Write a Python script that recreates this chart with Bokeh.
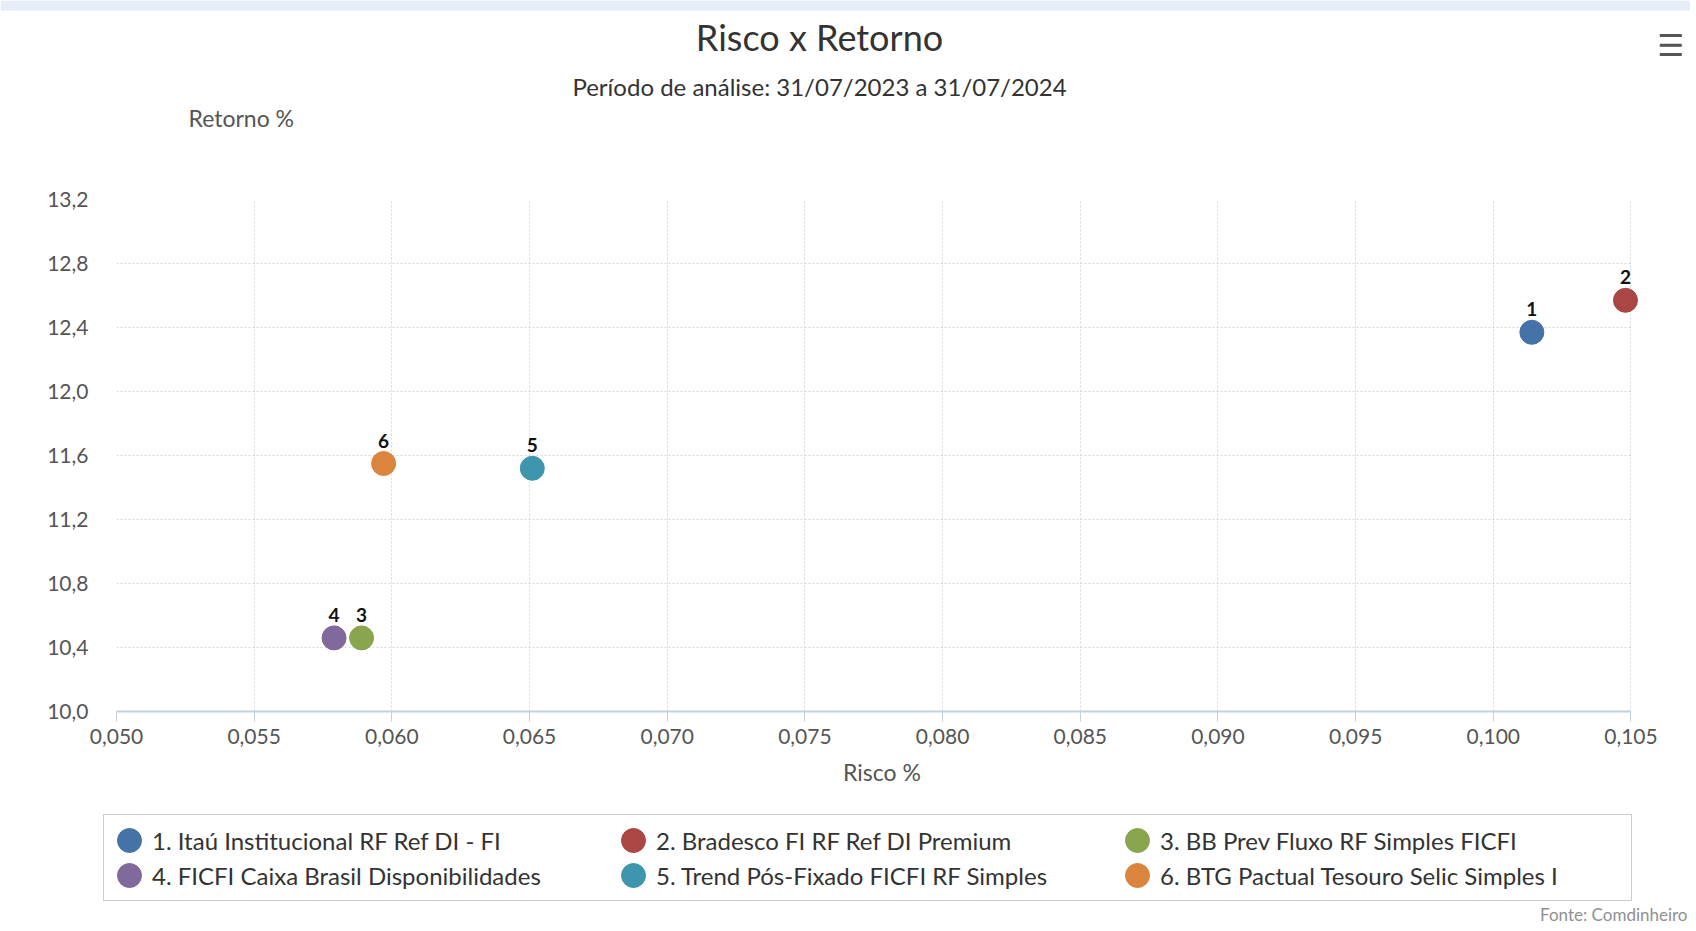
from bokeh.plotting import figure
from bokeh.models import (ColumnDataSource, Legend, LegendItem, Label, FixedTicker,
                          CustomJSTickFormatter, Range1d, BoxAnnotation)
from bokeh.core.properties import value
from bokeh.embed import file_html
from bokeh.resources import INLINE

# ---- data ----
funds = [
    "1. Itaú Institucional RF Ref DI - FI",
    "2. Bradesco FI RF Ref DI Premium",
    "3. BB Prev Fluxo RF Simples FICFI",
    "4. FICFI Caixa Brasil Disponibilidades",
    "5. Trend Pós-Fixado FICFI RF Simples",
    "6. BTG Pactual Tesouro Selic Simples I",
]
point_labels = ["1", "2", "3", "4", "5", "6"]
risco = [0.1014, 0.1048, 0.0589, 0.0579, 0.0651, 0.0597]
retorno = [12.37, 12.57, 10.46, 10.46, 11.52, 11.55]
colors = ["#4572A7", "#AA4643", "#89A54E", "#80699B", "#3D96AE", "#DB843D"]
x_ticks = [0.050, 0.055, 0.060, 0.065, 0.070, 0.075, 0.080, 0.085, 0.090, 0.095, 0.100, 0.105]
y_ticks = [10.0, 10.4, 10.8, 11.2, 11.6, 12.0, 12.4, 12.8, 13.2]
title_text = "Risco x Retorno"
subtitle_text = "Período de análise: 31/07/2023 a 31/07/2024"
x_title = "Risco %"
y_title = "Retorno %"
credit_text = "Fonte: Comdinheiro"

FONT = "Lato"
W = 1690
TOP_H, MAIN_H, LEG_H = 185, 606, 134


def blank(height):
    f = figure(width=W, height=height, output_backend="svg", toolbar_location=None,
               x_range=Range1d(0, 1), y_range=Range1d(0, 1), min_border=0)
    f.axis.visible = False
    f.grid.visible = False
    f.outline_line_color = None
    f.border_fill_color = "white"
    f.background_fill_color = "white"
    return f


# ---------------- heading strip ----------------
t = blank(TOP_H)
t.add_layout(BoxAnnotation(left=0, right=W, top=TOP_H, bottom=TOP_H - 10,
                           left_units="screen", right_units="screen",
                           top_units="screen", bottom_units="screen",
                           fill_color="#E6ECF8", fill_alpha=1.0, line_color=None))
t.add_layout(Label(x=819, y=TOP_H - 36, x_units="screen", y_units="screen", text=title_text,
                   text_align="center", text_baseline="middle", text_font=FONT,
                   text_font_size="36px", text_color="#333333"))
t.add_layout(Label(x=819, y=TOP_H - 86, x_units="screen", y_units="screen", text=subtitle_text,
                   text_align="center", text_baseline="middle", text_font=FONT,
                   text_font_size="24px", text_color="#333333"))
t.add_layout(Label(x=188, y=TOP_H - 117, x_units="screen", y_units="screen", text=y_title,
                   text_align="left", text_baseline="middle", text_font=FONT,
                   text_font_size="23px", text_color="#555555"))
t.add_layout(Label(x=1684, y=TOP_H - 45, x_units="screen", y_units="screen", text="☰",
                   text_align="right", text_baseline="middle", text_font="DejaVu Sans",
                   text_font_size="30px", text_font_style="bold", text_color="#555555"))

# ---------------- main chart ----------------
p = figure(width=W, height=MAIN_H, output_backend="svg", toolbar_location=None,
           x_range=Range1d(x_ticks[0], 0.1056), y_range=Range1d(y_ticks[0], y_ticks[-1]),
           min_border_left=116, min_border_right=43, min_border_top=14, min_border_bottom=80)
p.outline_line_color = None
p.background_fill_color = "white"
p.border_fill_color = "white"

for g in (p.xgrid, p.ygrid):
    g.grid_line_color = "#d8d8d8"
    g.grid_line_dash = "2 2"
    g.grid_line_width = 1
p.xgrid.ticker = FixedTicker(ticks=x_ticks)
p.ygrid.ticker = FixedTicker(ticks=y_ticks)
p.ygrid.cross_bounds = (x_ticks[0], x_ticks[-1])

xa = p.xaxis[0]
xa.ticker = FixedTicker(ticks=x_ticks)
xa.bounds = (x_ticks[0], x_ticks[-1])
xa.formatter = CustomJSTickFormatter(code="return tick.toFixed(3).replace('.', ',');")
xa.axis_line_color = "#C0D0E0"
xa.axis_line_width = 2
xa.major_tick_line_color = "#C0D0E0"
xa.major_tick_out = 10
xa.major_tick_in = 0
xa.minor_tick_line_color = None
xa.major_label_standoff = 7
xa.major_label_text_font = FONT
xa.major_label_text_font_size = "21px"
xa.major_label_text_color = "#555555"
xa.axis_label = x_title
xa.axis_label_text_font = FONT
xa.axis_label_text_font_style = "normal"
xa.axis_label_text_font_size = "23px"
xa.axis_label_text_color = "#555555"
xa.axis_label_standoff = 11

ya = p.yaxis[0]
ya.ticker = FixedTicker(ticks=y_ticks)
ya.formatter = CustomJSTickFormatter(code="return tick.toFixed(1).replace('.', ',');")
ya.axis_line_color = None
ya.major_tick_line_color = None
ya.minor_tick_line_color = None
ya.major_label_standoff = 22
ya.major_label_text_font = FONT
ya.major_label_text_font_size = "21px"
ya.major_label_text_color = "#555555"

for lab, xv, yv, c in zip(point_labels, risco, retorno, colors):
    src = ColumnDataSource(dict(x=[xv], y=[yv], t=[lab]))
    p.scatter("x", "y", source=src, size=24, fill_color=c, line_color=c, line_width=1)
    p.text("x", "y", text="t", source=src, text_align="center", text_baseline="middle",
           y_offset=-23, text_font=value(FONT), text_font_size="19px",
           text_font_style="bold", text_color="#111111")

# ---------------- legend strip ----------------
q = blank(LEG_H)
items = []
for name, c in zip(funds, colors):
    r = q.ellipse(x=[-5], y=[-5], width=24, height=24, width_units="screen",
                  height_units="screen", fill_color=c, line_color=c)
    items.append(LegendItem(label=name, renderers=[r]))

legend = Legend(items=items, orientation="horizontal", ncols=3,
                location=(103, 24), margin=0, padding=10, spacing=5,
                glyph_width=30, glyph_height=30, label_standoff=8, label_width=461,
                label_text_font=FONT, label_text_font_size="24px", label_text_color="#333333",
                border_line_color="#999999", border_line_width=1.5,
                background_fill_color="white", background_fill_alpha=1.0)
q.add_layout(legend, "center")

q.add_layout(Label(x=W - 3, y=11, x_units="screen", y_units="screen", text=credit_text,
                   text_align="right", text_baseline="middle", text_font=FONT,
                   text_font_size="17px", text_color="#909090"))

open("out.html", "w").write(file_html([t, p, q], INLINE))
